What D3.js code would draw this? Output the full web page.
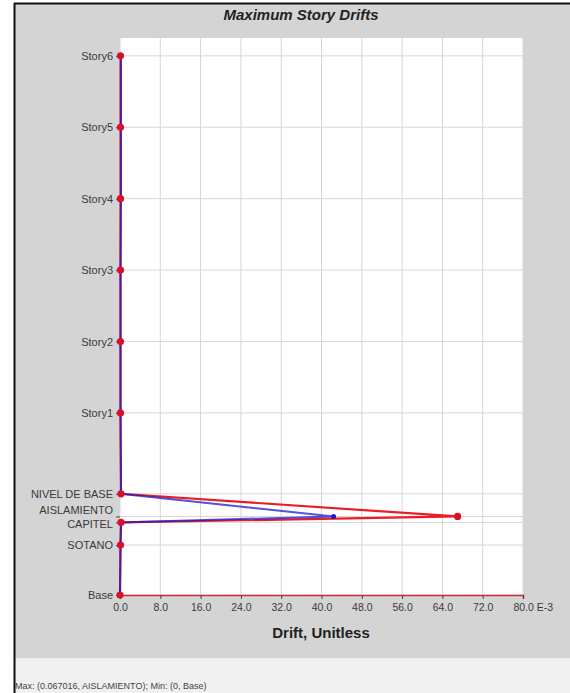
<!DOCTYPE html>
<html>
<head>
<meta charset="utf-8">
<script src="https://cdn.jsdelivr.net/npm/d3@7"></script>
<style>
  html, body { margin: 0; padding: 0; background: #ffffff; }
  svg { display: block; }
</style>
</head>
<body>
<svg id="chart" width="570" height="693"></svg>
<script>
// Story levels (bottom to top) and their elevations in metres
const levels = ["Base", "SOTANO", "CAPITEL", "AISLAMIENTO", "NIVEL DE BASE",
                "Story1", "Story2", "Story3", "Story4", "Story5", "Story6"];
const elevations = [0, 2.1, 3.05, 3.3, 4.25, 7.65, 10.65, 13.65, 16.65, 19.65, 22.65];

// Maximum drift per level (unitless), direction X and direction Y
const driftX = [0, 0.0001, 0.0002, 0.067016, 0.0002, 0.0001, 0.0001, 0.0001, 0.0001, 0.0001, 0.0001];
const driftY = [0, 0.0001, 0.0002, 0.0424, 0.0002, 0.0001, 0.0001, 0.0001, 0.0002, 0.0002, 0.0002];

// X axis ticks (shown in E-3)
const xTicks = [0, 0.008, 0.016, 0.024, 0.032, 0.040, 0.048, 0.056, 0.064, 0.072, 0.080];

const title = "Maximum Story Drifts";
const xTitle = "Drift, Unitless";
const statusText = "Max: (0.067016, AISLAMIENTO);  Min: (0, Base)";

const svg = d3.select("#chart");
const W = 570, H = 693;

// Frame: grey panel, light status strip, black border lines
svg.append("rect").attr("x", 14).attr("y", 3).attr("width", W - 14).attr("height", 655).attr("fill", "#d4d4d4");
svg.append("rect").attr("x", 14).attr("y", 658).attr("width", W - 14).attr("height", H - 658).attr("fill", "#f0f0f0");
svg.append("line").attr("x1", 14).attr("x2", W).attr("y1", 3.5).attr("y2", 3.5).attr("stroke", "#111").attr("stroke-width", 2);
svg.append("line").attr("x1", 14.5).attr("x2", 14.5).attr("y1", 3).attr("y2", H).attr("stroke", "#111").attr("stroke-width", 2);

const plot = { left: 120, right: 523, top: 38, bottom: 595 };

const x = d3.scaleLinear().domain([0, 0.08]).range([plot.left, plot.right]);
const y = d3.scaleLinear().domain([0, 23.4]).range([plot.bottom, plot.top]);

// White plotting area
svg.append("rect")
  .attr("x", plot.left).attr("y", plot.top)
  .attr("width", plot.right - plot.left).attr("height", plot.bottom - plot.top)
  .attr("fill", "#ffffff");

// Grid lines
svg.append("g").selectAll("line.vg").data(xTicks).join("line")
  .attr("x1", d => x(d)).attr("x2", d => x(d))
  .attr("y1", plot.top).attr("y2", plot.bottom)
  .attr("stroke", "#d6d6d6").attr("stroke-width", 1);
svg.append("g").selectAll("line.hg").data(elevations).join("line")
  .attr("x1", plot.left).attr("x2", plot.right)
  .attr("y1", d => y(d)).attr("y2", d => y(d))
  .attr("stroke", "#d6d6d6").attr("stroke-width", 1);

// X axis
const xAxis = d3.axisBottom(x)
  .tickValues(xTicks)
  .tickSize(4)
  .tickPadding(5)
  .tickFormat((d, i) => (d * 1000).toFixed(1) + (i === xTicks.length - 1 ? " E-3" : ""));
const gx = svg.append("g").attr("transform", `translate(0,${plot.bottom})`).call(xAxis);
gx.select(".domain").attr("stroke", "#c8303a").attr("stroke-width", 1.5);
gx.selectAll(".tick line").attr("stroke", "#444");
gx.selectAll(".tick text")
  .attr("font-family", "Liberation Sans, Arial, sans-serif")
  .attr("font-size", 10.5).attr("fill", "#3a3a3a")
  .attr("text-anchor", (d, i) => i === xTicks.length - 1 ? "start" : "middle")
  .attr("dx", (d, i) => i === xTicks.length - 1 ? -10 : 0);

// Y axis with the level names; the two closely spaced levels get nudged apart
const labelShift = { "AISLAMIENTO": -6, "CAPITEL": 2 };
const yAxis = d3.axisLeft(y)
  .tickValues(elevations)
  .tickSize(4)
  .tickPadding(3)
  .tickFormat((d, i) => levels[i]);
const gy = svg.append("g").attr("transform", `translate(${plot.left},0)`).call(yAxis);
gy.select(".domain").remove();
gy.selectAll(".tick line").attr("stroke", "#444");
gy.selectAll(".tick text")
  .attr("font-family", "Liberation Sans, Arial, sans-serif")
  .attr("font-size", 11).attr("fill", "#3a3a3a")
  .attr("y", (d, i) => labelShift[levels[i]] || 0)
  .attr("dy", "0.32em");

// Drift profiles
const line = vals => d3.line()
  .x((d, i) => x(vals[i]))
  .y((d, i) => y(elevations[i]))(levels);

svg.append("path").attr("d", line(driftX))
  .attr("fill", "none").attr("stroke", "#ec1c24").attr("stroke-width", 2.2);
svg.append("path").attr("d", line(driftY))
  .attr("fill", "none").attr("stroke", "#1a1ad0").attr("stroke-width", 2).attr("stroke-opacity", 0.75);

// Level markers on the X-direction profile
svg.append("g").selectAll("circle").data(levels).join("circle")
  .attr("cx", (d, i) => x(driftX[i]))
  .attr("cy", (d, i) => y(elevations[i]))
  .attr("r", 3.6)
  .attr("fill", "#d8102c");
svg.append("circle")
  .attr("cx", x(driftY[3])).attr("cy", y(elevations[3]))
  .attr("r", 2.5).attr("fill", "#1a1ad0");

// Titles
svg.append("text")
  .attr("x", 301).attr("y", 20)
  .attr("text-anchor", "middle")
  .attr("font-family", "Liberation Sans, Arial, sans-serif")
  .attr("font-size", 15).attr("font-weight", "bold").attr("font-style", "italic")
  .attr("fill", "#222")
  .text(title);

svg.append("text")
  .attr("x", 321).attr("y", 638)
  .attr("text-anchor", "middle")
  .attr("font-family", "Liberation Sans, Arial, sans-serif")
  .attr("font-size", 15).attr("font-weight", "bold")
  .attr("fill", "#222")
  .text(xTitle);

// Status line
svg.append("text")
  .attr("x", 15).attr("y", 689)
  .attr("font-family", "Liberation Sans, Arial, sans-serif")
  .attr("font-size", 9).attr("fill", "#444")
  .text(statusText);
</script>
</body>
</html>
